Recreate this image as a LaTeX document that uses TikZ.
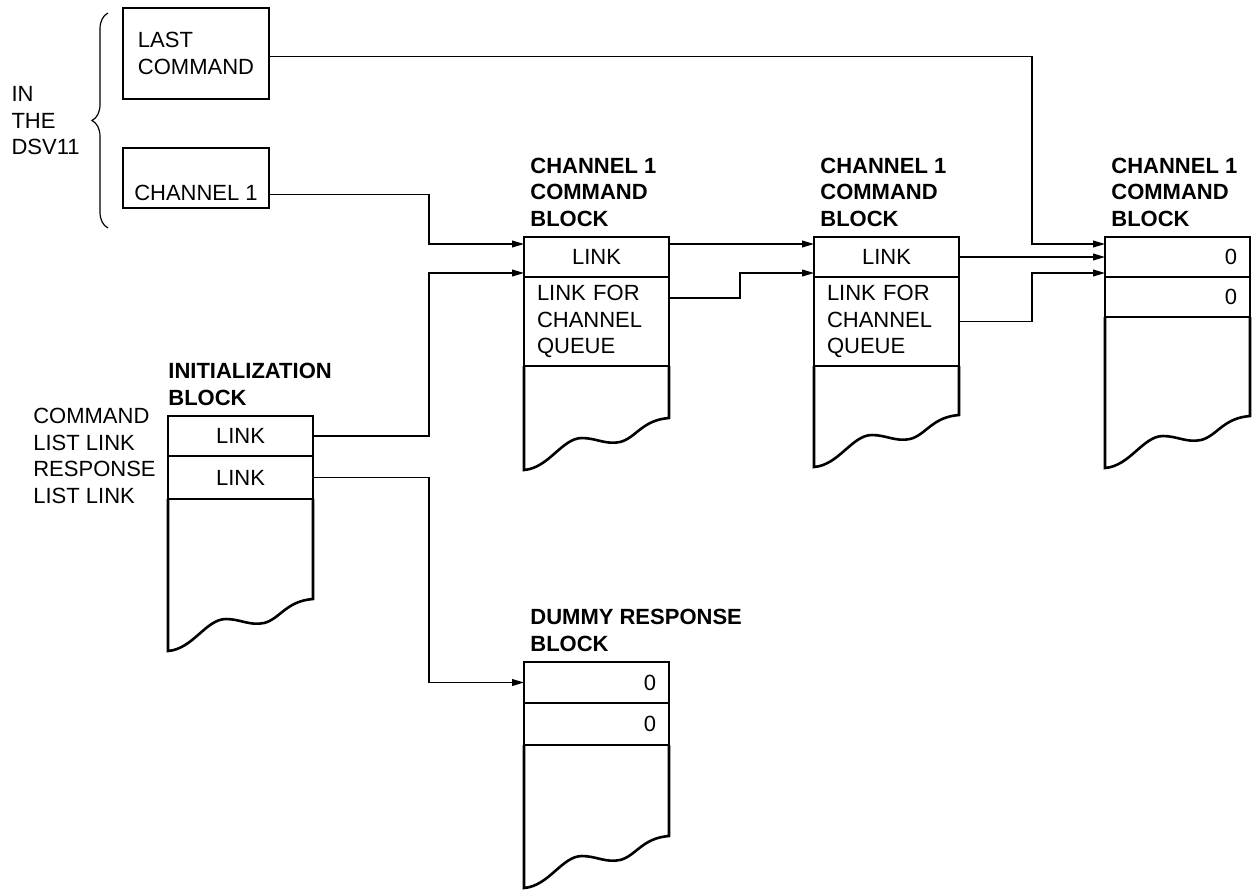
\documentclass[tikz,border=0pt]{standalone}
\usepackage{fontspec}
\setmainfont{Liberation Sans}
\usetikzlibrary{arrows.meta,positioning,decorations.pathreplacing}
\newcommand{\dsvfont}{\fontsize{11}{13.25}\selectfont}
% torn lower part of a block, hung under its last row (#2 = depth)
\newcommand{\blocktail}[2]{%
  \begin{scope}[shift={(#1.south west)}]
    \draw[blk] (0,0) -- (0,#2) .. controls (25,#2-2) and (38,#2-32) .. (58,#2-32)
      .. controls (72,#2-32) and (82,#2-25) .. (96,#2-28)
      .. controls (112,#2-32) and (118,#2-50) .. (145,#2-52) -- (145,0);
  \end{scope}}

\begin{document}
\begin{tikzpicture}[x=0.5pt,y=-0.5pt,
    reg/.style={draw,line width=1.3pt,outer sep=0pt,inner sep=0pt,minimum width=73pt,align=left,font=\dsvfont},
    cell/.style={draw,line width=1.3pt,outer sep=0pt,inner sep=0pt,minimum width=72.5pt,minimum height=20pt,font=\dsvfont},
    word/.style={cell,text width=59.5pt,align=left},
    zero/.style={cell,text width=59.5pt,align=right},
    ttl/.style={inner sep=0pt,align=left,font=\dsvfont\bfseries},
    lbl/.style={inner sep=0pt,align=left,font=\dsvfont},
    blk/.style={line width=1.3pt},
    conn/.style={line width=0.7pt,-{Triangle[length=6pt,width=3.4pt]}}]
  \useasboundingbox (0,0) rectangle (1253,890);

  % registers in the DSV11
  \node[reg,minimum height=45.5pt,anchor=north west] (lastcmd) at (123,8) {LAST\\COMMAND};
  \node[reg,minimum height=30pt,text height=22pt,text depth=0pt,below right=24.5pt and 0pt of lastcmd.south west] (chan) {CHANNEL 1};
  \coordinate (btop) at (108,13);
  \coordinate (bbot) at (108,228);
  \coordinate (btip) at (93,121);
  \draw[line width=0.6pt,decorate,decoration={brace,amplitude=8pt}] (bbot) -- (btop);
  \node[lbl,left=6.5pt of btip] (dsv) {IN\\THE\\DSV11};

  % command blocks
  \node[cell,anchor=north west] (b1a) at (524,237) {LINK};
  \node[word,minimum height=44.5pt,below=0pt of b1a] (b1b) {LINK FOR\\CHANNEL\\QUEUE};
  \node[ttl,above right=5pt and 3pt of b1a.north west] (t1) {CHANNEL 1\\COMMAND\\BLOCK};
  \node[cell,right=72.5pt of b1a] (b2a) {LINK};
  \node[word,minimum height=44.5pt,below=0pt of b2a] (b2b) {LINK FOR\\CHANNEL\\QUEUE};
  \node[ttl,above right=5pt and 3pt of b2a.north west] (t2) {CHANNEL 1\\COMMAND\\BLOCK};
  \node[zero,right=73pt of b2a] (b3a) {0};
  \node[zero,below=0pt of b3a] (b3b) {0};
  \node[ttl,above right=5pt and 3pt of b3a.north west] (t3) {CHANNEL 1\\COMMAND\\BLOCK};

  % initialization block
  \node[cell,anchor=north west] (ia) at (168,416) {LINK};
  \node[cell,minimum height=21.5pt,below=0pt of ia] (ib) {LINK};
  \node[ttl,above right=5pt and 0pt of ia.north west] (ti) {INITIALIZATION\\BLOCK};
  \node[lbl,left=6pt of ia.south west] (cll) {COMMAND\\LIST LINK\\RESPONSE\\LIST LINK};

  % dummy response block
  \node[zero,minimum height=20.5pt,anchor=north west] (da) at (524,662) {0};
  \node[zero,minimum height=21pt,below=0pt of da] (db) {0};
  \node[ttl,above right=5pt and 3pt of da.north west] (td) {DUMMY RESPONSE\\BLOCK};

  \blocktail{b1b}{104}
  \blocktail{b2b}{101}
  \blocktail{b3b}{151}
  \blocktail{ib}{152}
  \blocktail{db}{143}

  % links
  \coordinate (b1in1) at ([yshift=-3.5pt]b1a.north west);
  \coordinate (b1in3) at ([yshift=2pt]b1a.south west);
  \coordinate (b2in1) at ([yshift=-3.5pt]b2a.north west);
  \coordinate (b2in3) at ([yshift=2pt]b2a.south west);
  \coordinate (b3in1) at ([yshift=-3.5pt]b3a.north west);
  \coordinate (b3in3) at ([yshift=2pt]b3a.south west);
  \draw[conn] ([yshift=-1.5pt]lastcmd.east) -| ([xshift=-36.5pt]b3in1) -- (b3in1);
  \draw[conn] (chan.mid east) -| ([xshift=-47.5pt]b1in1) -- (b1in1);
  \draw[conn] (ia.east) -| ([xshift=-47.5pt]b1in3) -- (b1in3);
  \draw[conn] (ib.east) -| ([xshift=-47.5pt]da.west) -- (da.west);
  \draw[conn] (b1a.east |- b2in1) -- (b2in1);
  \draw[conn] ([yshift=-10.5pt]b1b.north east) -| ([xshift=-37pt]b2in3) -- (b2in3);
  \draw[conn] (b2a.east) -- (b3a.west);
  \draw[conn] (b2b.east) -| ([xshift=-36.5pt]b3in3) -- (b3in3);
\end{tikzpicture}
\end{document}
